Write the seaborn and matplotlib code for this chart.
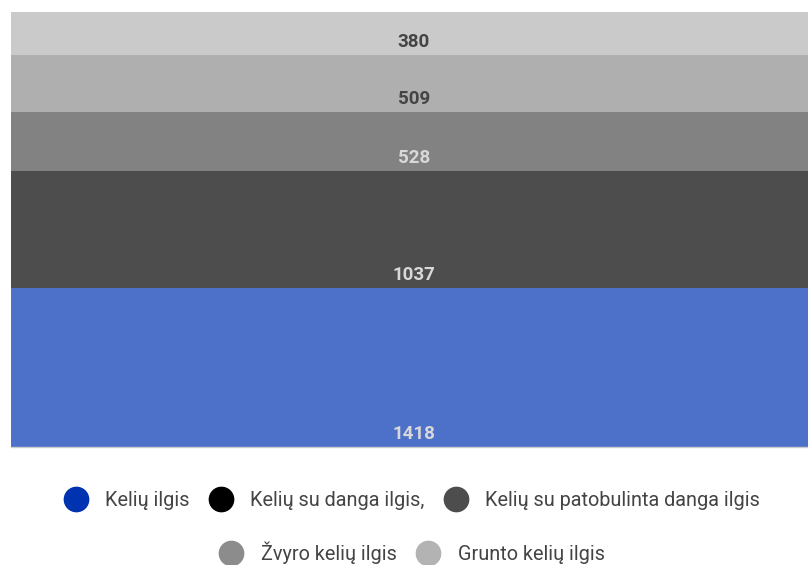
import numpy as np
import pandas as pd
import matplotlib
matplotlib.use("Agg")
import matplotlib.pyplot as plt
from matplotlib.lines import Line2D
from matplotlib.colors import to_rgb
import seaborn as sns

# road length by type, bottom segment first
series = ["Kelių ilgis", "Kelių su danga ilgis,", "Kelių su patobulinta danga ilgis",
          "Žvyro kelių ilgis", "Grunto kelių ilgis"]
values = [1418, 1037, 528, 509, 380]
colors = ["#0033b0", "#000000", "#4d4d4d", "#8c8c8c", "#b3b3b3"]
label_colors = ["#d8d8d8", "#d8d8d8", "#d8d8d8", "#444444", "#444444"]

sns.set_theme(style="white")
plt.rcParams["font.family"] = ["Roboto", "DejaVu Sans"]


def faded(c, alpha=0.7):
    r = np.array(to_rgb(c))
    return tuple(alpha * r + (1 - alpha) * 1.0)


tops = np.cumsum(values)
df = pd.DataFrame({"cat": ["all"] * len(values), "top": tops, "series": series})

fig = plt.figure(figsize=(8.08, 5.65), dpi=100)
ax = fig.add_axes([11 / 808, 1 - 447 / 565, 806 / 808, 435 / 565])

# stacked bar: draw cumulative tops from the tallest down
for i in reversed(range(len(values))):
    sns.barplot(data=df.iloc[[i]], x="cat", y="top", color=faded(colors[i]),
                width=1.0, saturation=1, ax=ax, linewidth=0)

bottoms = tops - np.array(values)
for b, v, lc in zip(bottoms, values, label_colors):
    ax.annotate(f"{v}", xy=(0, b), xytext=(0, 13), textcoords="offset pixels",
                ha="center", va="center", fontsize=13.5, color=lc, fontweight="bold")

ax.set_xlim(-0.5, 0.5)
ax.set_ylim(0, tops[-1])
ax.set_xticks([])
ax.set_yticks([])
ax.set_xlabel("")
ax.set_ylabel("")
for s in ["left", "right", "top"]:
    ax.spines[s].set_visible(False)
ax.spines["bottom"].set_color("#cccccc")
ax.spines["bottom"].set_linewidth(1)

handles = [Line2D([], [], marker="o", linestyle="", markersize=17.5,
                  markerfacecolor=c, markeredgecolor=c) for c in colors]
leg_kw = dict(frameon=False, fontsize=14.3, handletextpad=0.9, columnspacing=0.95,
              labelcolor="#444444", handlelength=1.2)
fig.legend(handles[:3], series[:3], ncol=3, loc="center",
           bbox_to_anchor=(412 / 808, 1 - 500 / 565), **leg_kw)
fig.legend(handles[3:], series[3:], ncol=2, loc="center",
           bbox_to_anchor=(412 / 808, 1 - 553 / 565), **leg_kw)

fig.savefig("out.png", dpi=100)
